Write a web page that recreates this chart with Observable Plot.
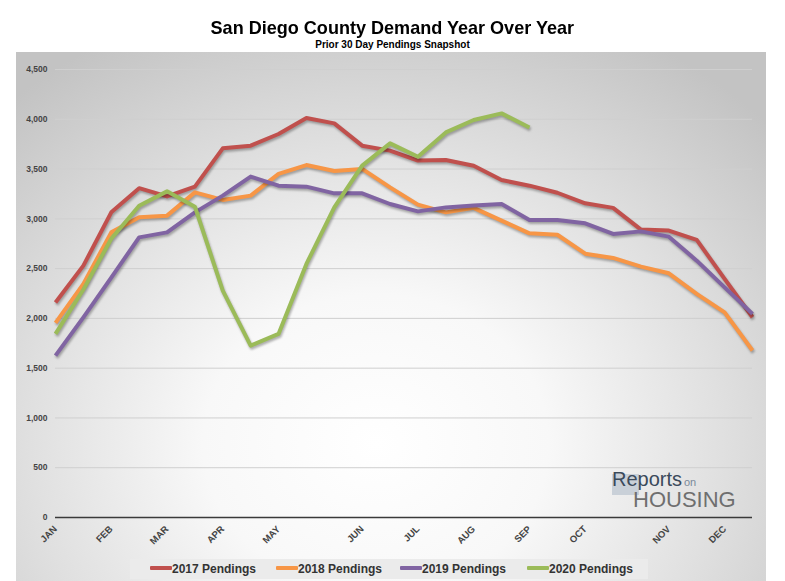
<!DOCTYPE html>
<html>
<head>
<meta charset="utf-8">
<script src="https://cdn.jsdelivr.net/npm/d3@7"></script>
<script src="https://cdn.jsdelivr.net/npm/@observablehq/plot@0.6"></script>
<style>
  html, body { margin: 0; padding: 0; background: #ffffff; }
  #wrap { position: relative; width: 785px; height: 581px; overflow: hidden; font-family: "Liberation Sans", Arial, sans-serif; }
  #title { position: absolute; left: 0; top: 18px; width: 785px; text-align: center; font-size: 19px; line-height: 19px; font-weight: bold; color: #000; }
  #title span { display: inline-block; transform: scaleX(0.95); transform-origin: center; }
  #subtitle { position: absolute; left: 0; top: 40px; width: 785px; text-align: center; font-size: 10px; line-height: 10px; font-weight: bold; color: #000; }
  #panel { position: absolute; left: 16px; top: 52px; width: 750px; height: 529px;
    background: radial-gradient(ellipse 72% 88% at 48% 74%, #ffffff 0%, #f8f8f8 32%, #e0e0e0 64%, #c3c3c3 100%); }
  #chart { position: absolute; left: 0; top: 52px; }
  #chart svg g[aria-label="line"] path { filter: drop-shadow(1px 2px 1.2px rgba(0,0,0,0.3)); }
  #legend { position: absolute; left: 130px; top: 559px; width: 518px; height: 20px; background: #ebebeb; }
  .item { position: absolute; top: 4px; font-size: 12px; line-height: 12px; font-weight: bold; color: #333; white-space: nowrap; }
  .sw { position: absolute; left: 0; top: 3px; width: 22px; height: 4px; border-radius: 1px; }
  .lbl { position: absolute; left: 22px; top: 0; }
  .logo { position: absolute; white-space: nowrap; }
  #logoBox { left: 612px; top: 474px; width: 27px; height: 21px; background: #c9d0d8; }
  #logoRep { left: 612px; top: 469px; font-size: 20px; line-height: 20px; color: #3b4a5b; }
  #logoOn { left: 684px; top: 477px; font-size: 11px; line-height: 11px; color: #7a8a9a; }
  #logoHou { left: 633px; top: 489px; font-size: 22px; line-height: 22px; color: #6f6f6f; }
</style>
</head>
<body>
<div id="wrap">
  <div id="panel"></div>
  <div id="title"><span>San Diego County Demand Year Over Year</span></div>
  <div id="subtitle">Prior 30 Day Pendings Snapshot</div>
  <div id="chart"></div>
  <div id="logoBox" class="logo"></div>
  <div id="logoRep" class="logo">Reports</div>
  <div id="logoOn" class="logo">on</div>
  <div id="logoHou" class="logo">HOUSING</div>
  <div id="legend"></div>
</div>
<script>
// ---- data ----
const periods = [0,1,2,3,4,5,6,7,8,9,10,11,12,13,14,15,16,17,18,19,20,21,22,23,24,25];
const monthTickIdx = [0, 2, 4, 6, 8, 11, 13, 15, 17, 19, 22, 24];
const monthLabels = ["JAN","FEB","MAR","APR","MAY","JUN","JUL","AUG","SEP","OCT","NOV","DEC"];
const yTicks = [0, 500, 1000, 1500, 2000, 2500, 3000, 3500, 4000, 4500];
const seriesNames = ["2017 Pendings", "2018 Pendings", "2019 Pendings", "2020 Pendings"];
const seriesColors = ["#c0504d", "#f79646", "#8064a2", "#9bbb59"];
const p2017 = [2160, 2530, 3065, 3308, 3225, 3323, 3708, 3735, 3852, 4013, 3959, 3735, 3685, 3585, 3591, 3534, 3390, 3333, 3262, 3156, 3110, 2892, 2882, 2788, 2397, 2011];
const p2018 = [1955, 2346, 2864, 3015, 3032, 3266, 3190, 3233, 3451, 3540, 3480, 3501, 3316, 3143, 3065, 3110, 2982, 2854, 2840, 2650, 2607, 2520, 2453, 2246, 2061, 1677];
const p2019 = [1626, 2010, 2410, 2814, 2864, 3065, 3233, 3424, 3333, 3323, 3256, 3256, 3149, 3075, 3115, 3133, 3149, 2989, 2989, 2955, 2848, 2874, 2821, 2580, 2312, 2045];
const p2020 = [1844, 2290, 2800, 3132, 3276, 3122, 2279, 1727, 1844, 2547, 3115, 3534, 3758, 3624, 3868, 3993, 4059, 3918];

const allSeries = [p2017, p2018, p2019, p2020];

const lineMarks = allSeries.map((vals, k) =>
  Plot.line(vals, {
    x: periods.slice(0, vals.length),
    y: vals,
    stroke: seriesColors[k],
    strokeWidth: 4,
    strokeLinejoin: "round",
    strokeLinecap: "butt"
  })
);

const chart = Plot.plot({
  width: 785,
  height: 505,
  marginLeft: 55,
  marginRight: 33,
  marginTop: 17,
  marginBottom: 40,
  style: { background: "transparent", overflow: "visible", fontFamily: "'Liberation Sans', Arial, sans-serif" },
  x: { domain: [0, 25], axis: null },
  y: { domain: [0, 4500], axis: null },
  marks: [
    Plot.gridY(yTicks.slice(1), { stroke: "#cfcfcf", strokeOpacity: 1, strokeWidth: 1 }),
    Plot.axisY(yTicks, {
      tickSize: 0, tickPadding: 8, tickFormat: d3.format(","),
      fontSize: 8.5, fontWeight: "bold", fill: "#444"
    }),
    Plot.ruleY([0], { stroke: "#3a3a3a", strokeWidth: 1.6 }),
    Plot.axisX(monthTickIdx, {
      tickSize: 0, tickPadding: 10, tickRotate: -45,
      tickFormat: (d) => monthLabels[monthTickIdx.indexOf(d)],
      fontSize: 9.5, fontWeight: "bold", fill: "#444"
    }),
    ...lineMarks
  ]
});
document.getElementById("chart").appendChild(chart);

// legend
const legend = document.getElementById("legend");
const legendX = [20, 146, 270, 397];
seriesNames.forEach((name, k) => {
  const it = document.createElement("div");
  it.className = "item";
  it.style.left = legendX[k] + "px";
  it.innerHTML = `<span class="sw" style="background:${seriesColors[k]}"></span><span class="lbl">${name}</span>`;
  legend.appendChild(it);
});
</script>
</body>
</html>
